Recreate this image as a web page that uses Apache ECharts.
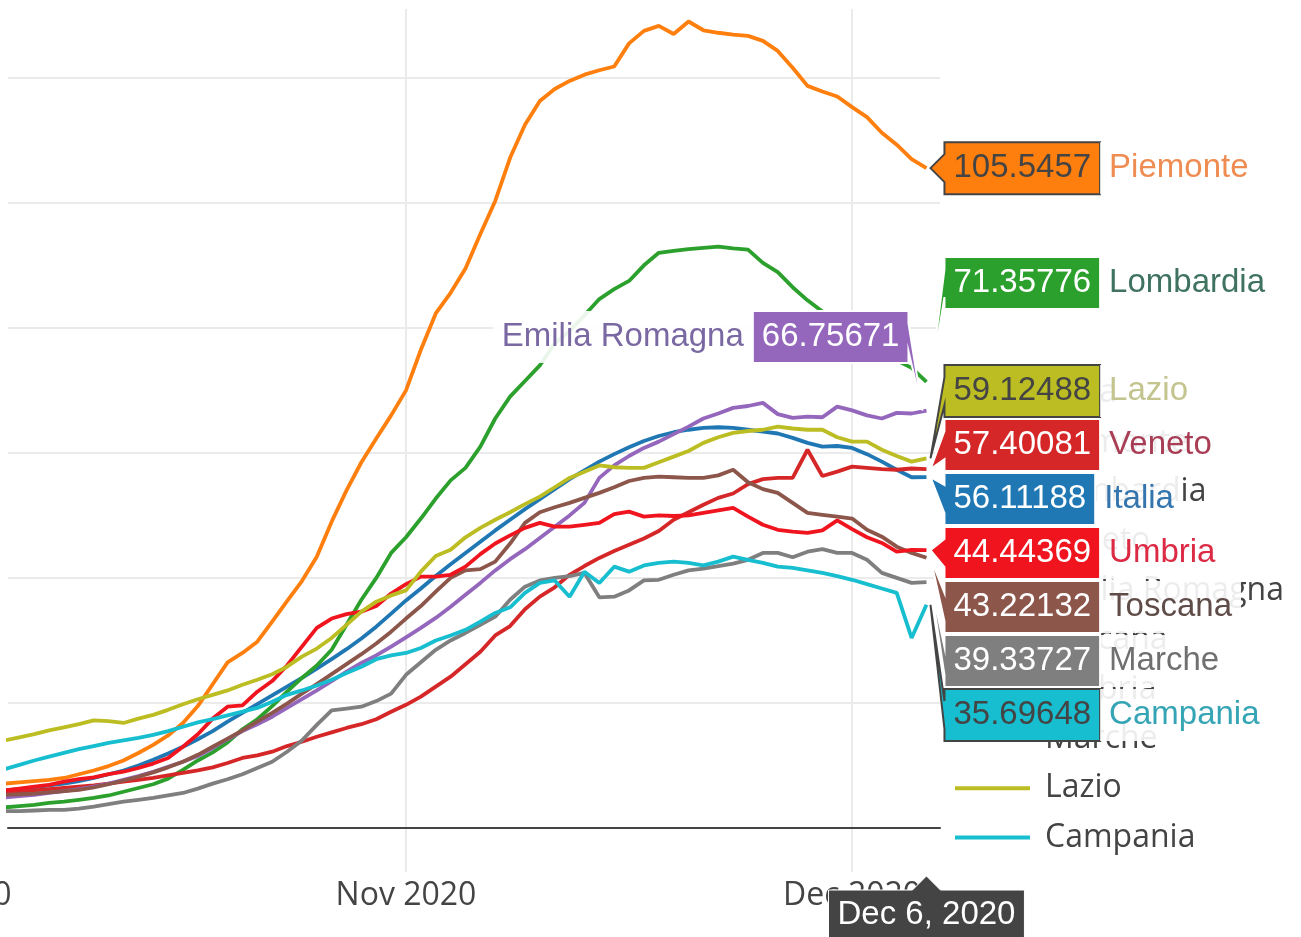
<!DOCTYPE html>
<html>
<head>
<meta charset="utf-8">
<script src="https://cdn.jsdelivr.net/npm/echarts@6/dist/echarts.min.js"></script>
<style>
html,body{margin:0;padding:0;background:#fff;}
#chart{width:1301px;height:937px;}
</style>
</head>
<body>
<div id="chart"></div>
<script>
// ---------- DATA (daily, starting Oct 5 2020) ----------
const startDate = [2020, 9, 5];
const seriesNames = ['Italia','Piemonte','Lombardia','Veneto','Emilia Romagna','Toscana','Umbria','Marche','Lazio','Campania'];

const italia = [6.0,6.2,6.5,6.8,7.1,7.5,8.0,8.6,9.2,10,
  10.9,11.9,13,14.2,15.5,17,18.4,19.8,21.2,22.6,
  24,25.5,27,28.6,30.3,32.2,34.3,36.4,38.3,40.3,
  42.2,44,45.8,47.6,49.3,51,52.6,54.2,55.8,57.2,
  58.6,59.8,60.9,61.9,62.7,63.3,63.7,64,64.1,64,
  63.7,63.4,63.1,62.4,61.6,61,61.1,60.8,59.8,58.6,
  57.3,56.1,56.11188];
const piemonte = [7.1,7.3,7.5,7.7,8.0,8.6,9.2,9.9,10.8,12.0,
  13.3,14.8,16.8,19.5,23,26.5,28,29.8,33,36.3,
  39.5,43.4,49,54,58.5,62.3,66,70,76.5,82.3,
  85.6,89.5,95,100.3,107.2,112.5,116.3,118.2,119.5,120.5,
  121.2,121.8,125.5,127.5,128.3,127,129,127.6,127.2,126.9,
  126.7,125.9,124.3,121.6,118.7,117.8,117,115.3,113.7,111.2,
  109.3,107,105.5457];
const lombardia = [3.3,3.5,3.7,4.0,4.2,4.5,4.8,5.2,5.8,6.4,
  7.0,7.9,9.3,10.8,12.1,13.7,15.8,17.4,19.5,21.8,
  24,26,28.5,32.5,36.5,40,44,46.5,49.5,52.7,
  55.6,57.6,61,65.5,69,71.5,74,77.5,79.5,82,
  84.6,86.2,87.5,90,92,92.3,92.6,92.8,93,92.7,
  92.5,90.4,88.9,86.5,84.4,82.6,80.6,78.8,77.3,76,
  74.8,73.6,71.35776];
const veneto = [5.7,5.8,6.0,6.2,6.4,6.6,6.8,7.1,7.4,7.7,
  8.0,8.4,8.8,9.2,9.7,10.4,11.2,11.6,12.2,13.1,
  13.8,14.6,15.3,16,16.6,17.4,18.6,19.7,21,22.6,
  24.2,26.2,28.2,30.8,32.3,35,37,38.5,40.5,41.9,
  43.2,44.3,45.3,46.3,47.5,49.3,50.5,51.7,52.8,53.5,
  55,55.8,56,56,60.5,56.3,57,57.8,57.6,57.4,
  57.3,57.5,57.40081];
const emiliaRomagna = [4.9,5.1,5.3,5.6,5.9,6.2,6.6,7.1,7.7,8.3,
  9.0,9.8,10.6,11.5,12.8,14.2,15.5,16.6,17.8,19.2,
  20.6,22,23.5,25,26.4,27.6,29,30.5,32,33.6,
  35.4,37.3,39.2,41.2,43,44.6,46.4,48.2,50,52,
  56,58,59.5,60.8,61.8,63,64.2,65.5,66.3,67.2,
  67.5,68,66.2,65.6,65.8,65.7,67.4,66.8,66,65.5,
  66.4,66.3,66.75671];
const toscana = [5.3,5.4,5.5,5.7,5.9,6.1,6.5,7.0,7.6,8.2,
  8.9,9.7,10.6,11.7,13,14.3,15.6,17,18.4,19.9,
  21.5,23,24.6,26.2,27.8,29.5,31.4,33.5,35.5,37.8,
  40,41.2,41.4,42.6,45.5,48.8,50.5,51.3,52,52.8,
  53.6,54.5,55.5,56,56.2,56.1,56,56,56.4,57.3,
  55.3,54.2,53.6,52,50.4,50.1,49.8,49.5,47.7,46.6,
  45,44,43.22132];
const umbria = [6.0,6.3,6.6,6.9,7.4,7.8,8.1,8.6,9,9.6,
  10.3,11.2,13,15,17.5,19.4,19.6,21.8,23.5,26,
  29,32,33.5,34.2,34.6,35.5,37.5,39,40.2,40.2,
  40.5,41.8,43.8,45.5,46.8,48,48.8,48.2,48.2,48.5,
  48.8,50.2,50.6,49.8,50,49.9,50,50.4,50.8,51.2,
  49.8,48.5,47.7,47.4,47.2,47.6,49.2,47.8,46.5,45.6,
  44.2,44.5,44.44369];
const marche = [2.7,2.7,2.8,2.9,2.9,3.1,3.4,3.8,4.2,4.5,
  4.8,5.2,5.6,6.3,7.1,7.8,8.6,9.6,10.6,12.2,
  14,16.5,18.8,19.1,19.4,20.3,21.5,24.5,26.5,28.5,
  30,31.2,32.5,33.8,36.5,38.6,39.6,40,40.3,40.8,
  36.9,37,38,39.6,39.7,40.5,41.2,41.5,41.9,42.3,
  42.9,44,44,43.3,44.2,44.6,44,44,42.9,40.8,
  40,39.2,39.33727];
const lazio = [14.0,14.5,15,15.6,16.1,16.6,17.2,17.1,16.8,17.5,
  18.1,18.9,19.8,20.6,21.3,22,22.9,23.7,24.6,25.8,
  27.4,28.7,30.4,32.5,34.6,36.2,37.2,38,41,43.5,
  44.5,46.5,48,49.3,50.5,51.8,53,54.5,56,57,
  58,57.7,57.6,57.6,58.5,59.4,60.3,61.6,62.5,63.2,
  63.5,63.7,64.2,63.9,63.7,63.7,62.5,61.8,61.8,60.5,
  59.5,58.6,59.12488];
const campania = [9.4,10.1,10.8,11.4,12,12.6,13.1,13.6,14,14.4,
  14.9,15.5,16.2,16.9,17.4,18,18.6,19.2,20.2,21.3,
  22,22.8,23.7,24.8,25.8,27,27.6,28,28.8,30,
  30.8,31.7,33,34.4,35.3,37.6,39.2,39.6,37,41,
  39.2,41.8,41,42,42.4,42.6,42.4,42,42.6,43.4,
  42.9,42.4,41.8,41.6,41.2,40.8,40.3,39.7,39,38.3,
  37.6,30.4,35.69648];

const seriesValues = [italia, piemonte, lombardia, veneto, emiliaRomagna, toscana, umbria, marche, lazio, campania];
const monthNames = ['Jan','Feb','Mar','Apr','May','Jun','Jul','Aug','Sep','Oct','Nov','Dec'];
const xTickDates = [[2020, 10, 1], [2020, 11, 1]];   // Nov 2020, Dec 2020
const offLeftTickDate = [2020, 9, 1];                // Oct 2020 (cut at the left edge)

// ---------- STYLES ----------
const lineColors = ['#1f77b4','#ff7f0e','#2ca02c','#d62728','#9467bd','#8c564b','#f0141e','#7f7f7f','#bcbd22','#17becf'];
const nameColors = ['#3575ad','#ef8c52','#3f7360','#a83d55','#7a68a2','#5f4c48','#dc2a44','#6f6f6f','#c3c48e','#35a5b5'];

const DAY = 86400000;
const t0 = new Date(startDate[0], startDate[1], startDate[2]).getTime();
const dates = italia.map((_, i) => new Date(startDate[0], startDate[1], startDate[2] + i).getTime());
const tickVals = xTickDates.map(d => new Date(d[0], d[1], d[2]).getTime());
const Y_MIN = -7.04, Y_MAX = 131;
const LABEL_MARGIN = 8;

const chart = echarts.init(document.getElementById('chart'), null, {renderer: 'canvas'});

const axisFont = '"Open Sans", "DejaVu Sans", sans-serif';
const hoverFont = '"Liberation Sans", Arial, sans-serif';

const option = {
  animation: false,
  backgroundColor: '#ffffff',
  grid: {left: 8, right: 361, top: 9, bottom: 65, containLabel: false, outerBoundsMode: 'none'},
  xAxis: {
    type: 'value',
    min: t0 + 0.235 * DAY,
    max: t0 + 62.91 * DAY,
    axisLine: {show: true, onZero: true, lineStyle: {color: '#444', width: 2}},
    axisTick: {show: false, customValues: tickVals},
    axisLabel: {
      customValues: tickVals,
      formatter: v => { const d = new Date(v); return monthNames[d.getMonth()] + ' ' + d.getFullYear(); },
      fontFamily: axisFont, fontSize: 32, color: '#444', margin: LABEL_MARGIN
    },
    splitLine: {show: true, lineStyle: {color: '#ebebeb', width: 2}}
  },
  yAxis: {
    type: 'value', min: Y_MIN, max: Y_MAX, minInterval: 20, maxInterval: 20,
    axisLabel: {show: false}, axisLine: {show: false}, axisTick: {show: false},
    splitLine: {show: true, showMinLine: false, showMaxLine: false, lineStyle: {color: '#ebebeb', width: 2}}
  },
  legend: {
    orient: 'vertical', left: 950, top: 372,
    itemWidth: 75, itemHeight: 4, itemGap: 17.4, icon: 'rect',
    selectedMode: false,
    textStyle: {fontFamily: axisFont, fontSize: 32, color: '#444', lineHeight: 30, padding: [0, 0, 0, 10]},
    data: seriesNames
  },
  series: seriesNames.map((name, i) => ({
    name, type: 'line', symbol: 'none', showSymbol: false, silent: true,
    color: lineColors[i],
    lineStyle: {width: 3.8, color: lineColors[i]},
    data: dates.map((t, k) => [t, seriesValues[i][k]])
  }))
};
chart.setOption(option);

// ---------- HOVER OVERLAY (Plotly-style unified hover labels) ----------
function isLight(hex) {
  const r = parseInt(hex.slice(1,3),16), g = parseInt(hex.slice(3,5),16), b = parseInt(hex.slice(5,7),16);
  return (r*299 + g*587 + b*114) / 1000 > 128;
}
function buildOverlay() {
  const last = dates.length - 1;
  const lastDate = dates[last];
  const W = chart.getWidth();
  const FS = 33;
  const ctx = document.createElement('canvas').getContext('2d');
  ctx.font = FS + 'px ' + hoverFont;
  const H = 52, S = 54, A = 14, PAD = 9, OFF = 4;
  const items = seriesNames.map((name, i) => {
    const v = seriesValues[i][last];
    const p = chart.convertToPixel({xAxisIndex: 0, yAxisIndex: 0}, [lastDate, v]);
    const txt = String(v);
    const bx = ctx.measureText(txt).width + 2 * PAD;
    const nx = ctx.measureText(name).width + 2 * PAD;
    const right = p[0] + OFF + A + bx + nx <= W;
    return {i, name, v, px: p[0], py: p[1], txt, bx, nx, right};
  });
  const sorted = items.slice().sort((a, b) => a.py - b.py);
  let groups = sorted.map(it => ({items: [it], c: it.py}));
  let merged = true;
  while (merged) {
    merged = false;
    for (let k = 0; k < groups.length - 1; k++) {
      const g1 = groups[k], g2 = groups[k + 1];
      if (g2.c - g2.items.length * S / 2 < g1.c + g1.items.length * S / 2) {
        const its = g1.items.concat(g2.items);
        groups.splice(k, 2, {items: its, c: its.reduce((s, it) => s + it.py, 0) / its.length});
        merged = true; break;
      }
    }
  }
  groups.forEach(g => g.items.forEach((it, k) => { it.cy = g.c + (k - (g.items.length - 1) / 2) * S; }));

  const els = [];
  items.forEach(it => {
    const col = lineColors[it.i];
    const fg = isLight(col) ? '#444' : '#fff';
    const sg = it.right ? 1 : -1;
    const tipX = it.px + sg * OFF, tipY = it.py;
    const x1 = tipX + sg * A, x2 = tipX + sg * (A + it.bx);
    const cy = it.cy;
    els.push({
      type: 'polygon', z: 100, silent: true,
      shape: {points: [[tipX, tipY], [x1, cy + A], [x1, cy + H/2], [x2, cy + H/2], [x2, cy - H/2], [x1, cy - H/2], [x1, cy - A]]},
      style: {fill: col, stroke: fg, lineWidth: 2}
    });
    els.push({
      type: 'text', z: 101, silent: true, x: (x1 + x2) / 2, y: cy,
      style: {text: it.txt, fill: fg, fontSize: FS, fontFamily: hoverFont, align: 'center', verticalAlign: 'middle', textAlign: 'center', textVerticalAlign: 'middle'}
    });
    const rx = it.right ? x2 : x2 - it.nx;
    els.push({
      type: 'rect', z: 100, silent: true,
      shape: {x: rx, y: cy - H/2, width: it.nx, height: H},
      style: {fill: 'rgba(255,255,255,0.9)'}
    });
    els.push({
      type: 'text', z: 101, silent: true, x: it.right ? x2 + PAD : x2 - PAD, y: cy,
      style: {text: it.name, fill: nameColors[it.i], fontSize: FS, fontFamily: hoverFont,
        align: it.right ? 'left' : 'right', textAlign: it.right ? 'left' : 'right', verticalAlign: 'middle', textVerticalAlign: 'middle'}
    });
  });

  const bp = chart.convertToPixel({xAxisIndex: 0, yAxisIndex: 0}, [lastDate, Y_MIN]);
  const ld = new Date(lastDate);
  const dateTxt = monthNames[ld.getMonth()] + ' ' + ld.getDate() + ', ' + ld.getFullYear();
  const dw = ctx.measureText(dateTxt).width + 2 * PAD;
  const tx = bp[0], ty = bp[1] + 4, top = ty + A;
  els.push({
    type: 'polygon', z: 100, silent: true,
    shape: {points: [[tx, ty], [tx + A, top], [tx + dw/2, top], [tx + dw/2, top + H], [tx - dw/2, top + H], [tx - dw/2, top], [tx - A, top]]},
    style: {fill: '#444', stroke: '#fff', lineWidth: 1}
  });
  els.push({
    type: 'text', z: 101, silent: true, x: tx, y: top + H/2 - 1,
    style: {text: dateTxt, fill: '#fff', fontSize: FS, fontFamily: hoverFont, align: 'center', textAlign: 'center', verticalAlign: 'middle', textVerticalAlign: 'middle'}
  });

  const octX = chart.convertToPixel({xAxisIndex: 0}, new Date(offLeftTickDate[0], offLeftTickDate[1], offLeftTickDate[2]).getTime());
  const bottomY = chart.convertToPixel({yAxisIndex: 0}, Y_MIN);
  els.push({
    type: 'text', z: 5, silent: true, x: octX, y: bottomY + LABEL_MARGIN,
    style: {text: monthNames[offLeftTickDate[1]] + ' ' + offLeftTickDate[0], fill: '#444', fontSize: 32, fontFamily: axisFont,
      align: 'center', textAlign: 'center', verticalAlign: 'top', textVerticalAlign: 'top'}
  });

  chart.setOption({graphic: {elements: els}});
}
buildOverlay();
</script>
</body>
</html>
